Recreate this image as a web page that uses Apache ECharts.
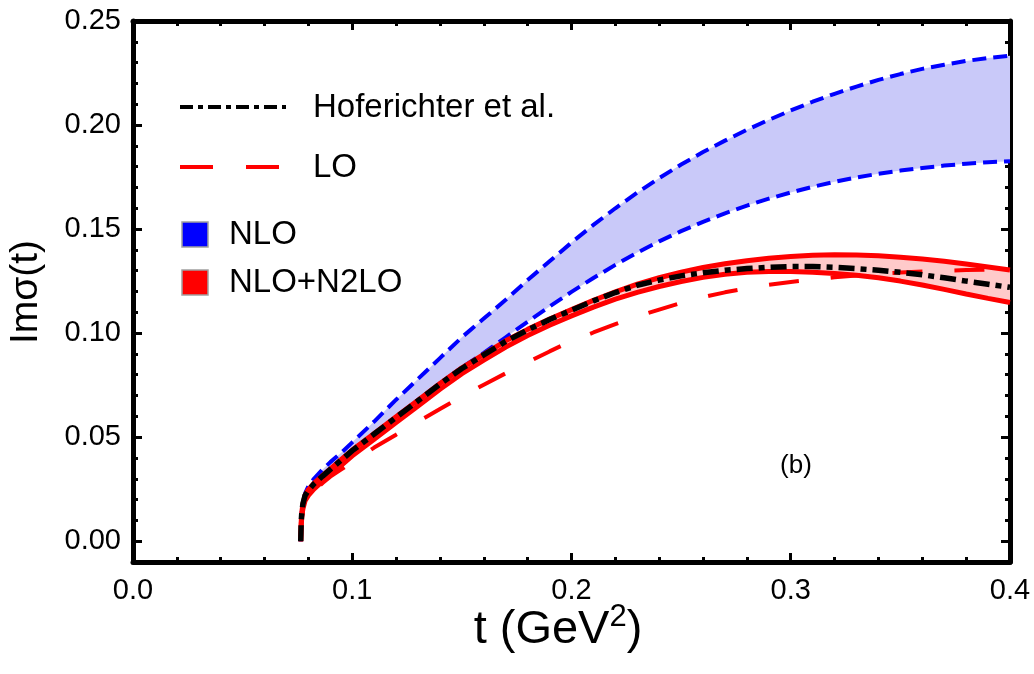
<!DOCTYPE html>
<html><head><meta charset="utf-8">
<script src="https://cdn.jsdelivr.net/npm/echarts@6/dist/echarts.min.js"></script>
<style>html,body{margin:0;padding:0;background:#fff}#c{width:1034px;height:674px}</style>
</head><body><div id="c"></div>
<script>
// ---- data ----
const t = [0.0765,0.0767,0.077,0.0775,0.0785,0.08,0.0825,0.0865,0.09,0.095,0.1,0.11,0.12,0.13,0.14,0.15,0.16,0.17,0.18,0.19,0.2,0.21,0.22,0.23,0.24,0.25,0.26,0.27,0.28,0.29,0.3,0.31,0.32,0.33,0.34,0.35,0.36,0.37,0.38,0.39,0.4];
const hoferichter = [0,0.009,0.014,0.018,0.022,0.0245,0.0275,0.0313,0.0345,0.039,0.0435,0.0515,0.0595,0.0675,0.0755,0.083,0.0895,0.096,0.1015,0.1065,0.111,0.1155,0.1195,0.123,0.1255,0.1275,0.129,0.1302,0.131,0.1316,0.132,0.132,0.1316,0.131,0.1302,0.1292,0.128,0.1266,0.125,0.1235,0.122];
const lo = [0,0.007,0.011,0.014,0.0175,0.0205,0.024,0.028,0.031,0.0345,0.038,0.045,0.0512,0.0575,0.0635,0.0695,0.0752,0.0807,0.086,0.0912,0.0962,0.1003,0.1043,0.108,0.1113,0.1145,0.1173,0.1196,0.1216,0.1232,0.1246,0.1257,0.1268,0.1277,0.1285,0.1291,0.1296,0.13,0.1303,0.1305,0.1306];
const nloUpper = [0,0.009,0.014,0.018,0.023,0.0265,0.030,0.0345,0.038,0.0425,0.0475,0.0575,0.068,0.078,0.088,0.098,0.107,0.116,0.1255,0.1345,0.1435,0.152,0.16,0.1675,0.1745,0.181,0.187,0.1925,0.1977,0.2025,0.207,0.2112,0.215,0.2185,0.2217,0.2245,0.227,0.229,0.2308,0.2322,0.2333];
const nloLower = [0,0.009,0.014,0.018,0.022,0.0245,0.0275,0.0313,0.0345,0.039,0.0435,0.0515,0.0595,0.0675,0.0758,0.0835,0.0905,0.098,0.1055,0.1128,0.1198,0.1265,0.1328,0.1387,0.1441,0.149,0.1535,0.1576,0.1613,0.1646,0.1676,0.1703,0.1727,0.1748,0.1766,0.1781,0.1794,0.1805,0.1814,0.1821,0.1826];
const n2loUpper = [0,0.009,0.014,0.018,0.0222,0.0248,0.0278,0.0316,0.0348,0.0393,0.0438,0.0518,0.0598,0.0678,0.0758,0.0833,0.0898,0.0963,0.1018,0.1068,0.1113,0.1158,0.1198,0.1235,0.1266,0.1293,0.1315,0.1333,0.1348,0.136,0.1368,0.1374,0.1377,0.1376,0.1372,0.1365,0.1356,0.1345,0.1332,0.1318,0.1303];
const n2loLower = [0,0.007,0.012,0.0155,0.0195,0.022,0.025,0.0288,0.032,0.0365,0.041,0.049,0.057,0.065,0.073,0.0805,0.087,0.0933,0.0988,0.1038,0.1083,0.1125,0.1163,0.1196,0.1224,0.1248,0.1268,0.1283,0.1292,0.1296,0.1296,0.1293,0.1287,0.1278,0.1266,0.125,0.1231,0.121,0.1188,0.1167,0.1147];

const xTicks = [0, 0.1, 0.2, 0.3, 0.4];
const xTickLabels = ['0.0', '0.1', '0.2', '0.3', '0.4'];
const yTicks = [0, 0.05, 0.1, 0.15, 0.2, 0.25];
const yTickLabels = ['0.00', '0.05', '0.10', '0.15', '0.20', '0.25'];
const legendNames = ['Hoferichter et al.', 'LO', 'NLO', 'NLO+N2LO'];
const xTitle = ['t (GeV', '2', ')'];
const yTitle = 'Im\u03c3(t)';
const panelLabel = '(b)';

// ---- chart ----
const FONT = 'Liberation Sans, Arial, Helvetica, sans-serif';
const yMinor = [];
for (let k = -1; k <= 25; k++) { if (k % 5 !== 0) yMinor.push(k / 100); }

function pairs(ys) { return t.map((x, i) => [x, ys[i]]); }
function band(upper, lower, fill, z) {
  return {
    type: 'custom', coordinateSystem: 'cartesian2d', clip: true, silent: true, z: z,
    data: [[t[0], upper[0]]],
    renderItem: function (params, api) {
      const pts = [];
      for (let i = 0; i < t.length; i++) pts.push(api.coord([t[i], upper[i]]));
      for (let i = t.length - 1; i >= 0; i--) pts.push(api.coord([t[i], lower[i]]));
      return { type: 'polygon', shape: { points: pts }, style: { fill: fill, stroke: null } };
    }
  };
}
function line(ys, color, width, dash, z) {
  return {
    type: 'line', data: pairs(ys), showSymbol: false, symbol: 'none', smooth: false, z: z,
    clip: true, silent: true,
    lineStyle: { color: color, width: width, type: dash, cap: 'butt' }
  };
}

const axisLineStyle = { color: '#000', width: 5 };
function xAx(pos, showLabel) {
  return {
    type: 'value', position: pos, min: 0, max: 0.4, interval: 0.1,
    axisLine: { show: true, onZero: false, lineStyle: axisLineStyle },
    axisTick: { show: true, inside: true, length: 9, lineStyle: { color: '#000', width: 3 } },
    minorTick: { show: true, splitNumber: 5, length: 5, lineStyle: { color: '#000', width: 3 } },
    axisLabel: {
      show: showLabel, color: '#000', fontSize: 29, fontFamily: FONT, margin: 14,
      formatter: v => { const i = xTicks.findIndex(x => Math.abs(x - v) < 1e-9); return i >= 0 ? xTickLabels[i] : ''; }
    },
    splitLine: { show: false }, minorSplitLine: { show: false }
  };
}
function yAx(pos, showLabel) {
  return {
    type: 'value', position: pos, min: -0.01, max: 0.25,
    axisLine: { show: true, onZero: false, lineStyle: axisLineStyle },
    axisTick: { show: true, inside: true, length: 9, lineStyle: { color: '#000', width: 3 }, customValues: yTicks },
    axisLabel: {
      show: showLabel, customValues: yTicks, color: '#000', fontSize: 29, fontFamily: FONT, margin: 12,
      formatter: v => { const i = yTicks.findIndex(y => Math.abs(y - v) < 1e-9); return i >= 0 ? yTickLabels[i] : ''; }
    },
    splitLine: { show: false }
  };
}
function yMinorAx(pos) {
  return {
    type: 'value', position: pos, min: -0.01, max: 0.25,
    axisLine: { show: false, onZero: false },
    axisTick: { show: true, inside: true, length: 5, lineStyle: { color: '#000', width: 3 }, customValues: yMinor },
    axisLabel: { show: false },
    splitLine: { show: false }
  };
}

const chart = echarts.init(document.getElementById('c'), null, { renderer: 'canvas' });
chart.setOption({
  animation: false,
  backgroundColor: '#fff',
  grid: { left: 133, right: 24, top: 21, bottom: 112, containLabel: false },
  xAxis: [xAx('bottom', true), xAx('top', false)],
  yAxis: [yAx('left', true), yMinorAx('left'), yAx('right', false), yMinorAx('right')],
  series: [
    band(nloUpper, nloLower, '#c9c9f9', 1),
    band(n2loUpper, n2loLower, '#ffcaca', 2),
    line(nloUpper, '#0000ff', 4, [14, 7], 3),
    line(nloLower, '#0000ff', 4, [14, 7], 3),
    line(n2loUpper, '#ff0000', 5, 'solid', 4),
    line(n2loLower, '#ff0000', 5, 'solid', 4),
    line(lo, '#ff0000', 4, [30, 32], 5),
    line(hoferichter, '#000000', 5.5, [16, 6, 6, 6], 6)
  ],
  graphic: [
    { type: 'line', shape: { x1: 180, y1: 107, x2: 286, y2: 107 }, style: { stroke: '#000', lineWidth: 4, lineDash: [13, 5, 5, 5] }, z: 10 },
    { type: 'text', x: 313, y: 108, style: { text: legendNames[0], font: '33px ' + FONT, fill: '#000', textVerticalAlign: 'middle' }, z: 10 },
    { type: 'line', shape: { x1: 180, y1: 167, x2: 280, y2: 167 }, style: { stroke: '#ff0000', lineWidth: 4, lineDash: [33, 33] }, z: 10 },
    { type: 'text', x: 313, y: 168, style: { text: legendNames[1], font: '33px ' + FONT, fill: '#000', textVerticalAlign: 'middle' }, z: 10 },
    { type: 'rect', shape: { x: 182, y: 222, width: 26, height: 25 }, style: { fill: '#0000ff', stroke: '#a0a0a0', lineWidth: 1.5 }, z: 10 },
    { type: 'text', x: 229, y: 235, style: { text: legendNames[2], font: '33px ' + FONT, fill: '#000', textVerticalAlign: 'middle' }, z: 10 },
    { type: 'rect', shape: { x: 182, y: 270, width: 26, height: 25 }, style: { fill: '#ff0000', stroke: '#a0a0a0', lineWidth: 1.5 }, z: 10 },
    { type: 'text', x: 229, y: 283, style: { text: legendNames[3], font: '33px ' + FONT, fill: '#000', textVerticalAlign: 'middle' }, z: 10 },
    { type: 'text', x: 796, y: 466, style: { text: panelLabel, font: '26px ' + FONT, fill: '#000', textAlign: 'center', textVerticalAlign: 'middle' }, z: 10 },
    { type: 'text', x: 26, y: 292, rotation: Math.PI / 2,
      style: { text: yTitle, font: '39px ' + FONT, fill: '#000', textAlign: 'center', textVerticalAlign: 'middle' }, z: 10 },
    { type: 'text', x: 558, y: 630,
      style: {
        text: '{a|' + xTitle[0] + '}{s|' + xTitle[1] + '}{a|' + xTitle[2] + '}',
        textAlign: 'center', textVerticalAlign: 'middle',
        rich: {
          a: { fontSize: 47, fontFamily: FONT, fill: '#000', lineHeight: 56 },
          s: { fontSize: 31, fontFamily: FONT, fill: '#000', lineHeight: 56, verticalAlign: 'top' }
        }
      }, z: 10 }
  ]
});
</script>
</body></html>
